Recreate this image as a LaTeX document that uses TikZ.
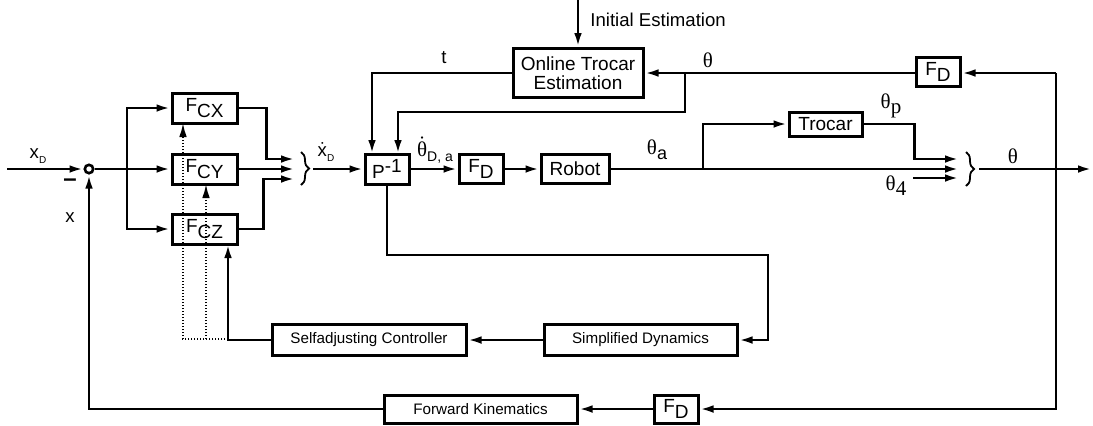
\documentclass[tikz,border=0pt]{standalone}
\usepackage{fontspec}
\setmainfont{Liberation Sans}
\newfontfamily\serfont{Liberation Serif}
\usetikzlibrary{arrows.meta,decorations.pathreplacing}

\newcommand{\lowsub}[1]{\raisebox{-2.6pt}{#1}}
\newcommand{\topdot}[1]{\ensuremath{\dot{\hbox{#1}}}}

\begin{document}
\begin{tikzpicture}[x=0.5pt,y=-0.5pt,
  blk/.style={draw, line width=1.5pt, inner sep=0pt, font=\fontsize{9.5}{9.6}\selectfont},
  smallblk/.style={blk, font=\fontsize{7.6}{9}\selectfont},
  sumpt/.style={draw, circle, line width=1.3pt, inner sep=0pt, minimum size=4.2pt},
  ln/.style={line width=1.35pt},
  arr/.style={line width=1.35pt, -{Latex[length=7pt,width=3.8pt]}},
  dots/.style={line width=0.9pt, dash pattern=on 0.6pt off 0.9pt, -{Latex[length=7pt,width=3.8pt]}},
  lbl/.style={inner sep=0pt, font=\fontsize{9.3}{10}\selectfont},
  thl/.style={inner sep=0pt, font=\fontsize{10.5}{11}\serfont},
  brc/.style={line width=0.9pt, decorate, decoration={brace, amplitude=4pt}}]

\useasboundingbox (0,0) rectangle (1093,425);

% blocks
\node[sumpt] (sum) at (89,169) {};
\node[blk, minimum width=32.5pt, minimum height=15pt] (fcx) at (204.5,108) {F\lowsub{CX}};
\node[blk, minimum width=32.5pt, minimum height=15pt] (fcy) at (204.5,169) {F\lowsub{CY}};
\node[blk, minimum width=32.5pt, minimum height=15pt] (fcz) at (204.5,229) {F\lowsub{CZ}};
\node[blk, minimum width=22pt, minimum height=15pt] (pinv) at (387,169) {P\raisebox{3pt}{-1}};
\node[blk, minimum width=22pt, minimum height=14.5pt] (fd1) at (481,169) {F\lowsub{D}};
\node[blk, minimum width=34pt, minimum height=14.5pt] (robot) at (575,169) {Robot};
\node[blk, minimum width=65pt, minimum height=24.5pt, align=center] (online) at (578,73) {Online Trocar\\ Estimation};
\node[blk, minimum width=36.5pt, minimum height=12pt] (trocar) at (825.5,124) {Trocar};
\node[blk, minimum width=22pt, minimum height=14.5pt] (fd2) at (938,72) {F\lowsub{D}};
\node[smallblk, minimum width=96.5pt, minimum height=15.5pt] (simdyn) at (640.5,340) {Simplified Dynamics};
\node[smallblk, minimum width=97pt, minimum height=15.5pt] (selfadj) at (369,340) {Selfadjusting Controller};
\node[smallblk, minimum width=96.5pt, minimum height=14pt] (fk) at (480.5,409) {Forward Kinematics};
\node[blk, minimum width=22pt, minimum height=14pt] (fd3) at (676,409) {F\lowsub{D}};

% points
\coordinate (in) at (7,169);
\coordinate (br) at (127,169);
\coordinate (jx) at (295,159);
\coordinate (jy) at (295,169);
\coordinate (jz) at (295,179);
\coordinate (b1) at (313,169);
\coordinate (p1) at (372,154);
\coordinate (p2) at (398,154);
\coordinate (ie) at (578,0);
\coordinate (tb2) at (685,73);
\coordinate (tb) at (703,169);
\coordinate (k1) at (959,159);
\coordinate (k2) at (959,169);
\coordinate (t4) at (913,178);
\coordinate (k3) at (959,178);
\coordinate (b2) at (979,169);
\coordinate (out) at (1092,169);
\coordinate (fb) at (1056,73);
\coordinate (sd) at (768,255);
\coordinate (sc) at (228,244);
\coordinate (dc) at (228,339);
\coordinate (dm) at (206,339);
\coordinate (d1) at (183,123);
\coordinate (d2) at (206,184);

% forward path
\draw[arr] (in) -- (sum);
\draw[ln] (sum) -- (br);
\draw[arr] (br) -- (fcy);
\draw[arr] (br) |- (fcx);
\draw[arr] (br) |- (fcz);
\draw[arr] (fcx.east) -- ++(28,0) |- (jx);
\draw[arr] (fcy) -- (jy);
\draw[arr] (fcz.east) -- ++(25,0) |- (jz);
\draw[brc] (301,152) -- (301,185);
\draw[arr] (b1) -- (pinv);
\draw[arr] (pinv) -- (fd1);
\draw[arr] (fd1) -- (robot);
\draw[arr] (robot) -- (k2);
\draw[arr] (tb) |- (trocar);
\draw[arr] (trocar.east) -- ++(51,0) |- (k1);
\draw[arr] (t4) -- (k3);
\draw[brc] (966,152) -- (966,186);
\draw[arr] (b2) -- (out);

% trocar estimation
\draw[arr] (ie) -- (online);
\draw[arr] (online.west) -| (p1);
\draw[arr] (tb2) -- ++(0,39) -| (p2);
\draw[arr] (fd2.west |- fb) -- (online.east |- fb);
\draw[arr] (fb) -- (fd2.east |- fb);

% feedback
\draw[arr] (fb) |- (fd3);
\draw[arr] (fd3) -- (fk);
\draw[arr] (fk) -| (sum);
\draw[arr] (pinv) |- (sd) |- (simdyn);
\draw[arr] (simdyn) -- (selfadj);
\draw[arr] (selfadj) -| (sc);
\draw[dots] (dc) -| (d1);
\draw[dots] (dm) -- (d2);

% labels
\node[lbl] (lxd) at (38,156) {x\lowsub{\fontsize{5}{5}\selectfont D}};
\node[inner sep=0pt, font=\fontsize{12}{12}\selectfont\bfseries] (lmin) at (70,183) {–};
\node[lbl] (lx) at (70,218) {x};
\node[lbl] (lxdd) at (326,152) {\topdot{x}\lowsub{\fontsize{5}{5}\selectfont D}};
\node[lbl] (lt) at (444,58) {t};
\node[thl] (lth1) at (708,60) {θ};
\node[lbl, anchor=west] (lie) at (590,20) {Initial Estimation};
\node[thl] (lthd) at (435,150) {\topdot{θ}\lowsub{\fontsize{7}{8}\rmfamily D, a}};
\node[thl] (ltha) at (657,150) {θ\lowsub{\fontsize{9}{9}\rmfamily a}};
\node[thl] (lthp) at (891,106) {θ\lowsub{p}};
\node[thl] (lth4) at (896,186) {θ\lowsub{4}};
\node[thl] (lth2) at (1013,156) {θ};

\end{tikzpicture}
\end{document}
